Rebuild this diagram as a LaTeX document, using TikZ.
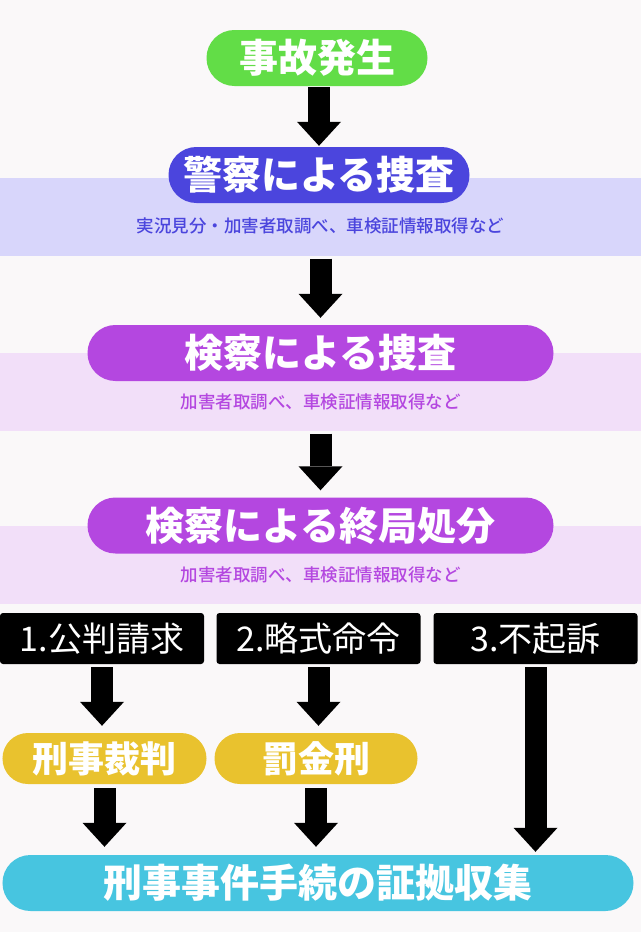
\documentclass[tikz,border=0pt]{standalone}
\usepackage{fontspec}
\setmainfont{Noto Sans CJK JP}
\IfFontExistsTF{Noto Sans CJK JP Black}
    {\newfontfamily\heavyfont{Noto Sans CJK JP Black}}
    {\newfontfamily\heavyfont{Noto Sans CJK JP}[FakeBold=2]}
\IfFontExistsTF{Noto Sans CJK JP Medium}
    {\newfontfamily\mediumfont{Noto Sans CJK JP Medium}}
    {\newfontfamily\mediumfont{Noto Sans CJK JP}}
\usetikzlibrary{arrows.meta}

\definecolor{bgcol}{HTML}{FAF8F9}
\definecolor{startcol}{HTML}{62DD47}
\definecolor{policecol}{HTML}{4B45DD}
\definecolor{policeband}{HTML}{D8D6FB}
\definecolor{prosecol}{HTML}{B447E0}
\definecolor{proseband}{HTML}{F2DFF9}
\definecolor{penaltycol}{HTML}{E9C22E}
\definecolor{evidcol}{HTML}{47C5E0}

\tikzset{
    pill/.style={inner sep=0pt, minimum height=56pt, rounded corners=27.9pt, text=white, font=\heavyfont\fontsize{39}{39}\selectfont},
    band/.style={inner sep=0pt, minimum width=640pt, minimum height=78pt},
    note/.style={inner sep=0pt, font=\mediumfont\fontsize{17.5}{18}\selectfont},
    choice/.style={fill=black, text=white, inner sep=0pt, rounded corners=3pt, minimum width=204pt, minimum height=51pt, font=\fontsize{34}{34}\selectfont},
    penalty/.style={pill, fill=penaltycol, minimum height=51pt, rounded corners=25.4pt, font=\heavyfont\fontsize{36}{36}\selectfont},
    blk/.style={line width=22pt, -{Triangle[width=44pt,length=24pt,line width=0pt]}, shorten <=3pt, shorten >=7pt}
}

\begin{document}
\begin{tikzpicture}[x=1pt, y=-1pt]
        \fill[bgcol] (0,0) rectangle (640,932);

        \node[band, fill=policeband] (band1) at (320,216.5) {};
        \node[band, fill=proseband] (band2) at (320,391.5) {};
        \node[band, fill=proseband] (band3) at (320,564.5) {};

        \node[pill, fill=startcol, minimum width=221pt] (accident) at (316.5,58) {事故発生};
        \node[pill, fill=policecol, minimum width=301pt] (police) at (318.5,175) {警察による捜査};
        \node[note, text=policecol] (note1) at (320,226) {実況見分・加害者取調べ、車検証情報取得など};

        \node[pill, fill=prosecol, minimum width=466pt] (probe) at (320,353) {検察による捜査};
        \node[note, text=prosecol] (note2) at (320,402) {加害者取調べ、車検証情報取得など};

        \node[pill, fill=prosecol, minimum width=466pt] (final) at (320,525.5) {検察による終局処分};
        \node[note, text=prosecol] (note3) at (320,575) {加害者取調べ、車検証情報取得など};

        \node[choice] (indict) at (101.5,638.5) {1.公判請求};
        \node[choice] (summary) at (318,638.5) {2.略式命令};
        \node[choice] (drop) at (535,638.5) {3.不起訴};

        \node[penalty, minimum width=204pt] (trial) at (104,758.5) {刑事裁判};
        \node[penalty, minimum width=203pt] (fine) at (315.5,758.5) {罰金刑};

        \node[pill, fill=evidcol, minimum width=631pt] (evidence) at (317.5,883) {刑事事件手続の証拠収集};

        \draw[blk, shorten <=1pt, shorten >=1pt] (police.north |- accident.south) -- (police.north);
        \draw[blk] (band1.south -| probe.north) -- (probe.north);
        \draw[blk] (band2.south -| final.north) -- (final.north);

        \draw[blk] (indict.south) -- (indict.south |- trial.north);
        \draw[blk] (summary.south) -- (summary.south |- fine.north);
        \draw[blk, shorten >=3pt] (drop.south) -- (drop.south |- evidence.north);

        \draw[blk, shorten <=4pt, shorten >=8pt] (trial.south) -- (trial.south |- evidence.north);
        \draw[blk, shorten <=4pt, shorten >=8pt] (fine.south) -- (fine.south |- evidence.north);
\end{tikzpicture}
\end{document}
